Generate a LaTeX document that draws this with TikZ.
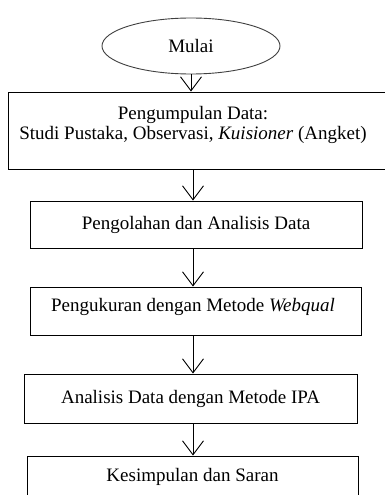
\documentclass[tikz,border=0pt]{standalone}
\usepackage{fontspec}
\setmainfont{Liberation Serif}
\usetikzlibrary{arrows.meta,shapes.geometric}
\begin{document}
\begin{tikzpicture}[x=1pt,y=-1pt,line width=0.9pt,
  >={Straight Barb[length=14pt,width=21pt,line width=0.9pt]},
  font=\fontsize{19}{20.5}\selectfont]
\tikzset{box/.style = {draw,rectangle,inner sep=0pt}}
\useasboundingbox (0,0) rectangle (384,495);
% nodes
\node[draw=black!75,ellipse,minimum width=178pt,minimum height=56pt,inner sep=0pt] (0) at (191,46) {Mulai};
\node[box,minimum width=382pt,minimum height=77pt] (1) at (199,130.5) {};
\node[align=center] (1t) at (193,125) {Pengumpulan Data:\\Studi Pustaka, Observasi, \textit{Kuisioner} (Angket)};
\node[box,minimum width=332pt,minimum height=47pt] (2) at (196,224.5) {Pengolahan dan Analisis Data};
\node[box,minimum width=331pt,minimum height=48pt] (3) at (195.5,311) {};
\node (3t) at (193,307) {Pengukuran dengan Metode \textit{Webqual}};
\node[box,minimum width=333pt,minimum height=49pt] (4) at (190.5,398.5) {Analisis Data dengan Metode IPA};
\node[box,minimum width=331pt,minimum height=70pt] (5) at (192.5,491) {};
\node (5t) at (192.5,477) {Kesimpulan dan Saran};
% edges
\draw[->] (0.south) -- (0.south |- 1.north);
\draw[->] ([xshift=2pt]0.south |- 1.south) -- ([xshift=2pt]0.south |- 2.north);
\draw[->] ([xshift=2pt]0.south |- 2.south) -- ([xshift=2pt]0.south |- 3.north);
\draw[->] ([xshift=2pt]0.south |- 3.south) -- ([xshift=2pt]0.south |- 4.north);
\draw[->] ([xshift=2pt]0.south |- 4.south) -- ([xshift=2pt]0.south |- 5.north);
\end{tikzpicture}
\end{document}
